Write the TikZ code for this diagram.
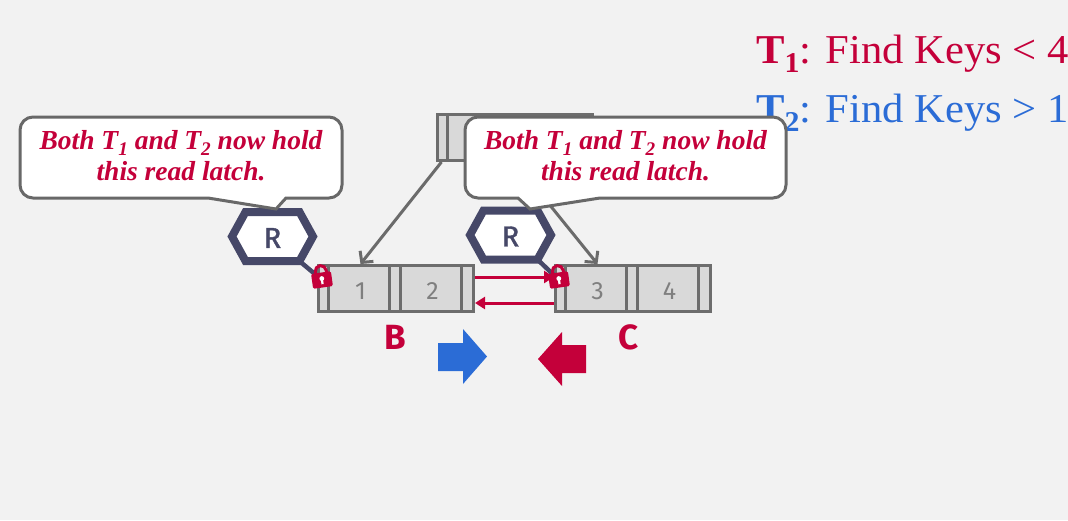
\documentclass[tikz,border=0pt]{standalone}
\usepackage{fontspec}
\setmainfont{Liberation Serif}
\newfontfamily\sansf{Fira Sans}
\newfontfamily\sansmed{Fira Sans}[FakeBold=1.3]
\usetikzlibrary{arrows.meta,calc}
\definecolor{crim}{HTML}{C4003A}
\definecolor{tblue}{HTML}{2B6CD6}
\definecolor{hexc}{HTML}{464868}
\definecolor{bgc}{HTML}{F2F2F2}
\definecolor{nodefill}{HTML}{D9D9D9}
\definecolor{nodeline}{HTML}{6D6D6D}
\definecolor{digitc}{HTML}{7F7F7F}
\definecolor{callline}{HTML}{686868}
\definecolor{ptrc}{HTML}{6B6B6B}
\newcommand\tsub[1]{\raisebox{-0.24em}{\scalebox{0.7}{#1}}}
\tikzset{
  bnode/.style={draw=nodeline, fill=nodefill, line width=3pt, minimum width=155pt, minimum height=46pt, inner sep=0pt},
  divline/.style={draw=nodeline, line width=3pt},
  digit/.style={text=digitc, font=\sansf\fontsize{25}{25}\selectfont, inner sep=0pt},
  ptr/.style={draw=ptrc, line width=3pt, -{Straight Barb[length=8pt,width=17pt,line width=3pt]}},
  rptr/.style={draw=crim, line width=3pt, -{Triangle[length=10pt,width=12pt]}},
  hexshape/.style={draw=hexc, fill=white, line width=8pt},
  hexlink/.style={draw=hexc, line width=4.5pt},
  hexlabel/.style={text=hexc, font=\sansmed\fontsize{29}{29}\selectfont, inner sep=0pt},
  callout/.style={draw=callline, fill=white, line width=3pt},
  callouttext/.style={text=crim, align=center, font=\bfseries\itshape\fontsize{27.5}{31}\selectfont, inner sep=0pt},
  title/.style={anchor=base west, inner sep=0pt, font=\fontsize{41}{44}\selectfont},
  nodelabel/.style={text=crim, font=\sansf\bfseries\fontsize{35}{35}\selectfont, inner sep=0pt},
  padlock/.pic={
    \draw[crim, line width=3pt] (-5.5,-5) -- (-5.5,-9) arc[start angle=180, end angle=360, radius=5.5] -- (5.5,-5);
    \fill[crim, rounded corners=1.5pt] (-10,-7.5) rectangle (10,7.5);
    \fill[white] (0,-1.5) circle (2.4);
    \fill[white] (-1.1,-1) rectangle (1.1,4.2);
  }
}
\newcommand\bdividers[1]{\foreach \dx in {11.5,72.5,83.5,144.5}{\draw[divline] ([xshift=\dx pt]#1.north west) -- ([xshift=\dx pt]#1.south west);}}
\begin{document}
\begin{tikzpicture}[x=1pt,y=-1pt]
\fill[bgc] (0,0) rectangle (1068,520);
\useasboundingbox (0,0) rectangle (1068,520);

% titles
\node[title, text=crim] (t1) at (756,63) {\scalebox{1.04}[1]{\textbf{T\tsub{1}}: Find Keys < 4}};
\node[title, text=tblue] (t2) at (756,122) {\scalebox{1.04}[1]{\textbf{T\tsub{2}}: Find Keys > 1}};

% tree nodes
\node[bnode] (A) at (515,137.5) {};
\bdividers{A}
\node[bnode] (B) at (396,288.5) {};
\bdividers{B}
\node[bnode] (C) at (633,288.5) {};
\bdividers{C}

\node[digit] (b1) at (360.5,291) {1};
\node[digit] (b2) at (432.5,291) {2};
\node[digit] (c1) at (597.5,291) {3};
\node[digit] (c2) at (669.5,291) {4};

% pointers
\draw[ptr] ([xshift=5.5pt]A.south west) -- (b1 |- B.north);
\draw[ptr] (A.south) -- (c1 |- C.north);
\draw[rptr] ([yshift=11.5pt]B.east) -- ([yshift=11.5pt]C.west);
\draw[rptr] ([yshift=-14.5pt]C.west) -- ([yshift=-14.5pt]B.east);

% hexagons
\coordinate (hexLc) at (272.5,236.5);
\coordinate (hexRc) at (510.5,235);
\coordinate (lockB) at (322,280);
\coordinate (lockC) at (559,280);
\coordinate (hexLbr) at ($(hexLc)+(27.5,25)$);
\coordinate (hexRbr) at ($(hexRc)+(27.5,25)$);
\draw[hexlink] (hexLbr) -- (lockB);
\draw[hexlink] (hexRbr) -- (lockC);
\foreach \h in {hexLc,hexRc}{
  \begin{scope}[shift={(\h)}]
    \draw[hexshape, line join=miter] (-40.5,0) -- (-27,-24.5) -- (27,-24.5) -- (40.5,0) -- (27,24.5) -- (-27,24.5) -- cycle;
  \end{scope}
}
\node[hexlabel] (hexL) at ([yshift=-1.5pt]hexLc) {R};
\node[hexlabel] (hexR) at ([yshift=-1.5pt]hexRc) {R};

% locks
\pic[rotate=8] at (lockB) {padlock};
\pic[rotate=8] at (lockC) {padlock};

% callouts
\draw[callout] (208,198) [rounded corners=13pt] -- (20,198) -- (20,117) -- (342,117) -- (342,198) [sharp corners] -- (286,198) -- (276,209) -- cycle;
\node[callouttext] (callL) at (181,155.5) {Both T\tsub{1} and T\tsub{2} now hold\\this read latch.};
\draw[callout] (518,198) [rounded corners=13pt] -- (465,198) -- (465,117) -- (786,117) -- (786,198) [sharp corners] -- (600,198) -- (530,209) -- cycle;
\node[callouttext] (callR) at (625.5,155.5) {Both T\tsub{1} and T\tsub{2} now hold\\this read latch.};

% node labels
\node[nodelabel] (labB) at (395,337) {B};
\node[nodelabel] (labC) at (629,337) {C};

% direction arrows
\fill[tblue] (438,343) -- (463,343) -- (463,329) -- (487,356.5) -- (463,384) -- (463,371) -- (438,371) -- cycle;
\fill[crim] (586,345) -- (562,345) -- (562,332) -- (538,359) -- (562,386) -- (562,373) -- (586,373) -- cycle;
\end{tikzpicture}
\end{document}
